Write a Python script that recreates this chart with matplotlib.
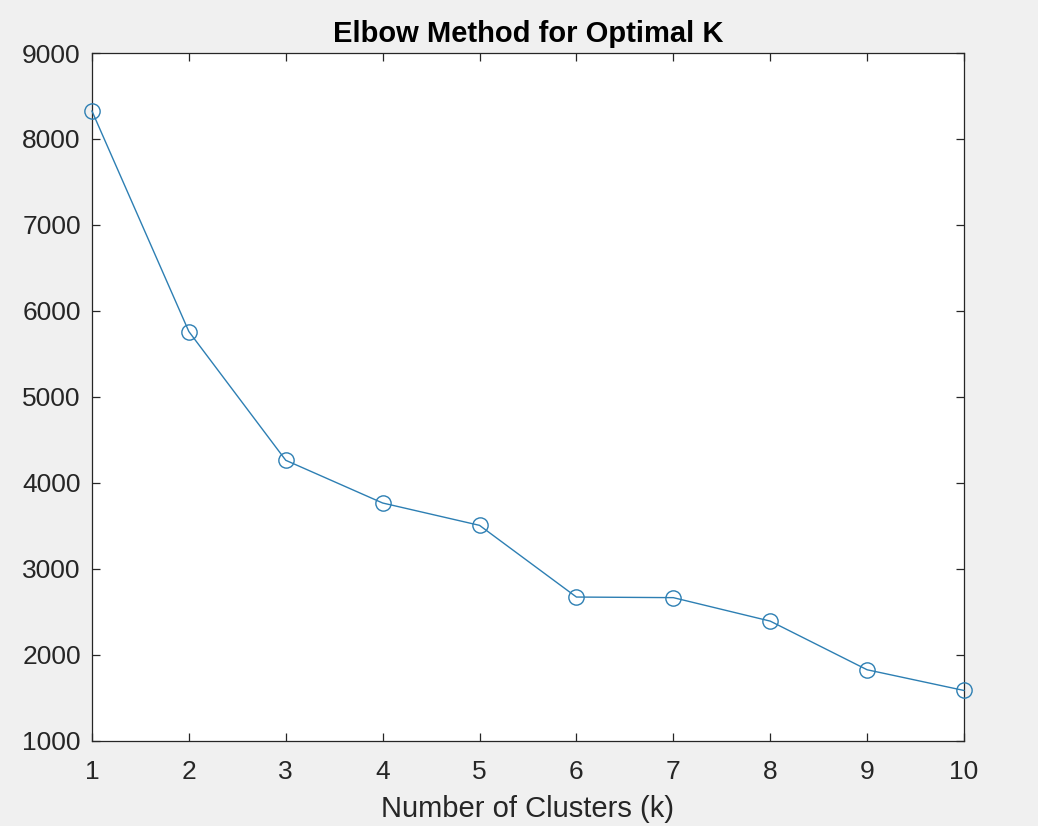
import matplotlib.pyplot as plt
import numpy as np

plt.rcParams["font.family"] = ["Liberation Sans", "DejaVu Sans"]

k_values = [1, 2, 3, 4, 5, 6, 7, 8, 9, 10]
wcss = [8325, 5760, 4262, 3765, 3505, 2671, 2664, 2391, 1825, 1584]
y_ticks = [1000, 2000, 3000, 4000, 5000, 6000, 7000, 8000, 9000]

fig = plt.figure(figsize=(10.38, 8.26), dpi=100, facecolor="#f0f0f0")
ax = fig.add_axes([0.0886, 0.1033, 0.8401, 0.8325])
ax.set_facecolor("white")

ax.plot(k_values, wcss, color="#2d7fb3", linewidth=1.0, marker="o",
        markersize=11, markerfacecolor="none", markeredgewidth=1.0,
        clip_on=False, zorder=3)

ax.set_xlim(1, 10)
ax.set_ylim(1000, 9000)
ax.set_xticks(k_values)
ax.set_yticks(y_ticks)

for s in ax.spines.values():
    s.set_color("#262626")
    s.set_linewidth(0.9)
ax.tick_params(direction="in", length=6, width=0.9, color="#262626",
               labelcolor="#262626", labelsize=19, top=True, right=True)
ax.tick_params(axis="x", pad=14)
ax.tick_params(axis="y", pad=8)

ax.set_title("Elbow Method for Optimal K", fontsize=21, fontweight="bold",
             color="black", pad=8)
ax.set_xlabel("Number of Clusters (k)", fontsize=21, color="#262626", labelpad=8)

fig.savefig("out.png", dpi=100, facecolor=fig.get_facecolor())
